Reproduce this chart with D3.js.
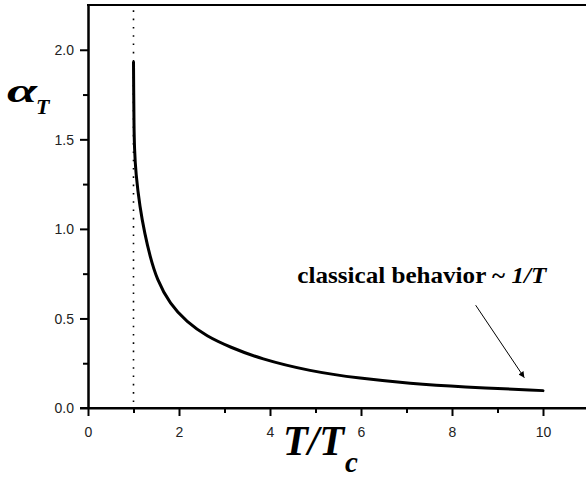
<!DOCTYPE html>
<html>
<head>
<meta charset="utf-8">
<script src="https://cdn.jsdelivr.net/npm/d3@7"></script>
<style>
  body { margin: 0; background: #fff; }
  #chart { width: 586px; height: 477px; }
</style>
</head>
<body>
<div id="chart"></div>
<script>
// values
const tRatio = [1.0, 1.005, 1.01, 1.02, 1.05, 1.14, 1.25, 1.36, 1.51, 1.8, 2.17, 2.61, 3.12, 3.78, 4.88, 5.98, 7.08, 8.18, 10];
const alphaT = [1.93, 1.75, 1.59, 1.45, 1.31, 1.12, 0.97, 0.85, 0.72, 0.58, 0.48, 0.40, 0.34, 0.275, 0.205, 0.165, 0.137, 0.118, 0.097];
const xTicks = [0, 2, 4, 6, 8, 10];
const yTicks = [0.0, 0.5, 1.0, 1.5, 2.0];
const criticalT = 1;
const noteText = "classical behavior ~ ";
const noteItalic = "1/T";
const arrowFrom = [8.52, 0.574];
const arrowTo = [9.59, 0.169];
const notePos = [4.6, 0.70];

const width = 586, height = 477;
const margin = { top: 5, left: 88, bottom: 69 };

const svg = d3.select("#chart")
    .append("svg")
    .attr("width", width)
    .attr("height", height);

const x = d3.scaleLinear().domain([0, 11]).range([margin.left, margin.left + 11 * 45.5]);
const y = d3.scaleLinear().domain([0, 2.25]).range([height - margin.bottom, margin.top]);

const data = tRatio.map((t, i) => ({ t: t, a: alphaT[i] }));

// arrow marker
svg.append("defs").append("marker")
    .attr("id", "head")
    .attr("viewBox", "0 0 10 10")
    .attr("refX", 10).attr("refY", 5)
    .attr("markerWidth", 10).attr("markerHeight", 6)
    .attr("markerUnits", "userSpaceOnUse")
    .attr("orient", "auto")
    .append("path")
    .attr("d", "M0,0 L10,5 L0,10 Z")
    .attr("fill", "#000");

// dotted line at T = Tc
svg.append("line")
    .attr("x1", x(criticalT)).attr("x2", x(criticalT))
    .attr("y1", y(0) - 6).attr("y2", y(2.25) + 2)
    .attr("stroke", "#000")
    .attr("stroke-width", 1.6)
    .attr("stroke-dasharray", "1.6,6.7");

// curve
svg.append("path")
    .datum(data)
    .attr("fill", "none")
    .attr("stroke", "#000")
    .attr("stroke-width", 3)
    .attr("stroke-linecap", "round")
    .attr("d", d3.line().x(d => x(d.t)).y(d => y(d.a)).curve(d3.curveBasis));

// axes
const xAxis = svg.append("g")
    .attr("transform", `translate(0,${y(0)})`)
    .call(d3.axisBottom(x).tickValues(xTicks).tickFormat(d3.format("d")).tickSize(8).tickSizeOuter(0));
const xMinor = svg.append("g")
    .attr("transform", `translate(0,${y(0)})`)
    .call(d3.axisBottom(x).tickValues([1, 3, 5, 7, 9]).tickFormat("").tickSize(5).tickSizeOuter(0));
const yAxis = svg.append("g")
    .attr("transform", `translate(${margin.left},0)`)
    .call(d3.axisLeft(y).tickValues(yTicks).tickFormat(d3.format(".1f")).tickSize(8).tickSizeOuter(0));
const yMinor = svg.append("g")
    .attr("transform", `translate(${margin.left},0)`)
    .call(d3.axisLeft(y).tickValues([0.25, 0.75, 1.25, 1.75]).tickFormat("").tickSize(5).tickSizeOuter(0));

[xAxis, xMinor, yAxis, yMinor].forEach(g => {
    g.select(".domain").attr("stroke-width", 2);
    g.selectAll(".tick line").attr("stroke-width", 2);
    g.selectAll("text")
        .attr("font-family", "Liberation Sans, Arial, sans-serif")
        .attr("font-size", 14)
        .attr("fill", "#222");
});
xAxis.select(".domain").attr("d", `M${x(0) - 8},0H${width}`);
xAxis.selectAll("text").attr("dy", "1.25em");
yAxis.selectAll("text").attr("x", -14).attr("dy", "0.35em");

// top frame line
svg.append("line")
    .attr("x1", margin.left - 1).attr("x2", width)
    .attr("y1", y(2.25)).attr("y2", y(2.25))
    .attr("stroke", "#000").attr("stroke-width", 2);

// annotation
const note = svg.append("text")
    .attr("x", x(notePos[0])).attr("y", y(notePos[1]))
    .attr("font-family", "Liberation Serif, Times New Roman, serif")
    .attr("font-weight", "bold")
    .attr("font-size", 24)
    .attr("textLength", 249)
    .attr("lengthAdjust", "spacingAndGlyphs");
note.append("tspan").text(noteText);
note.append("tspan").attr("font-style", "italic").text(noteItalic);

svg.append("line")
    .attr("x1", x(arrowFrom[0])).attr("y1", y(arrowFrom[1]))
    .attr("x2", x(arrowTo[0])).attr("y2", y(arrowTo[1]))
    .attr("stroke", "#000").attr("stroke-width", 1)
    .attr("marker-end", "url(#head)");

// axis titles
const serif = "Liberation Serif, Times New Roman, serif";
svg.append("text")
    .attr("x", 7).attr("y", 102)
    .attr("font-family", serif).attr("font-weight", "bold").attr("font-style", "italic")
    .attr("font-size", 34)
    .attr("textLength", 30).attr("lengthAdjust", "spacingAndGlyphs")
    .text("α");
svg.append("text")
    .attr("x", 36).attr("y", 114)
    .attr("font-family", serif).attr("font-weight", "bold").attr("font-style", "italic")
    .attr("font-size", 22)
    .text("T");

svg.append("text")
    .attr("x", 283).attr("y", 455)
    .attr("font-family", serif).attr("font-weight", "bold").attr("font-style", "italic")
    .attr("font-size", 42)
    .attr("textLength", 61).attr("lengthAdjust", "spacingAndGlyphs")
    .text("T/T");
svg.append("text")
    .attr("x", 345).attr("y", 472)
    .attr("font-family", serif).attr("font-weight", "bold").attr("font-style", "italic")
    .attr("font-size", 29)
    .text("c");
</script>
</body>
</html>
